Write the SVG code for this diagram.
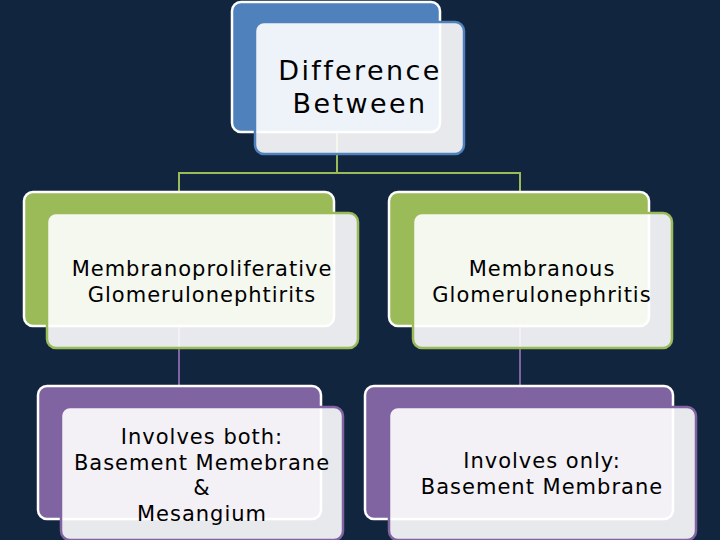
<svg xmlns="http://www.w3.org/2000/svg" width="720" height="540" viewBox="0 0 720 540">
<style>
.bg{fill:#12253f}
.back{stroke:#ffffff;stroke-width:2.5}
.front{fill:#ffffff;fill-opacity:0.9;stroke-width:2.5}
.t{font-family:"DejaVu Sans","Liberation Sans",sans-serif;fill:#000;text-anchor:middle}
.s{font-size:21px;letter-spacing:1px}
.c{fill:none;stroke-width:2}
</style>
<rect class="bg" x="0" y="0" width="720" height="540"/>
<g id="connectors">
<path class="c" stroke="#9bbb59" d="M337 131 V173 M179 192 V173 H520 V192"/>
<path class="c" stroke="#8064a2" d="M179 325 V386 M520 325 V386"/>
</g>
<g id="n0">
<rect class="back" x="232" y="2" width="208" height="130" rx="9" fill="#4f81bd"/>
<rect class="front" x="255" y="22" width="209" height="132" rx="9" stroke="#4f81bd"/>
<text class="t" font-size="27" letter-spacing="2.4"><tspan x="360" y="80">Difference</tspan><tspan x="360" y="113">Between</tspan></text>
</g>
<g id="n1">
<rect class="back" x="24" y="192" width="310" height="134" rx="9" fill="#9bbb59"/>
<rect class="front" x="47" y="213" width="311" height="135" rx="9" stroke="#9bbb59"/>
<text class="t s"><tspan x="202" y="276">Membranoproliferative</tspan><tspan x="202" y="302">Glomerulonephtirits</tspan></text>
</g>
<g id="n2">
<rect class="back" x="389" y="192" width="260" height="134" rx="9" fill="#9bbb59"/>
<rect class="front" x="413" y="213" width="259" height="135" rx="9" stroke="#9bbb59"/>
<text class="t s"><tspan x="542" y="276">Membranous</tspan><tspan x="542" y="302">Glomerulonephritis</tspan></text>
</g>
<g id="n3">
<rect class="back" x="38" y="386" width="283" height="133" rx="9" fill="#8064a2"/>
<rect class="front" x="61" y="407" width="282" height="133" rx="9" stroke="#8064a2"/>
<text class="t s"><tspan x="202" y="444">Involves both:</tspan><tspan x="202" y="470">Basement Memebrane</tspan><tspan x="202" y="495">&amp;</tspan><tspan x="202" y="521">Mesangium</tspan></text>
</g>
<g id="n4">
<rect class="back" x="365" y="386" width="308" height="133" rx="9" fill="#8064a2"/>
<rect class="front" x="389" y="407" width="307" height="133" rx="9" stroke="#8064a2"/>
<text class="t s"><tspan x="542" y="468">Involves only:</tspan><tspan x="542" y="494">Basement Membrane</tspan></text>
</g>
</svg>
